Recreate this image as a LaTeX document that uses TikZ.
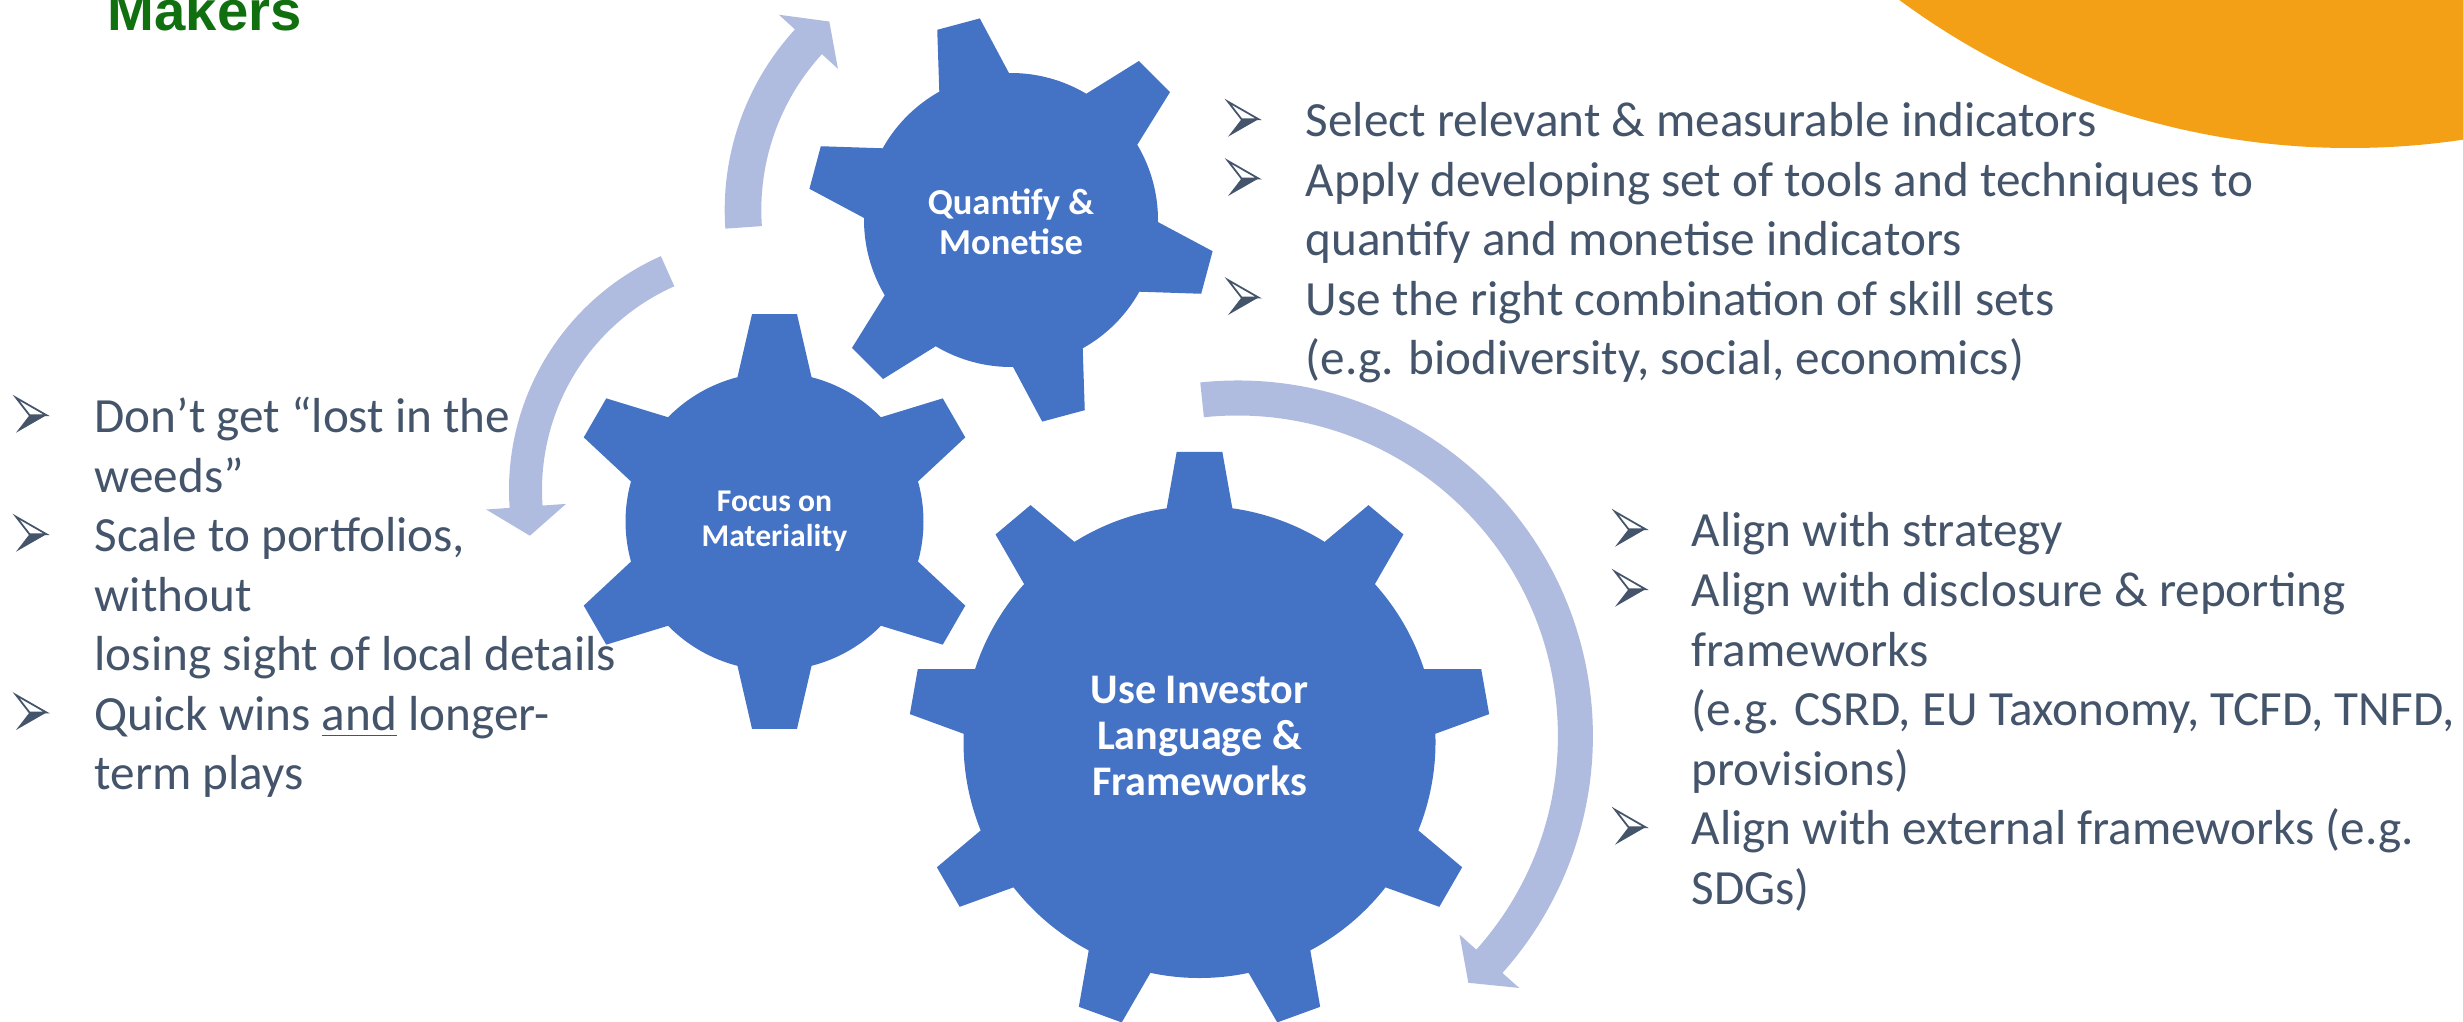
\documentclass[tikz,border=0pt]{standalone}
\usepackage{fontspec}
\setmainfont{Carlito}
\newfontfamily\headfont{Liberation Sans}
\usepackage{xcolor}
\usepackage{tikz}
\definecolor{gearBlue}{HTML}{4472C4}
\definecolor{arrowBlue}{HTML}{AFBBDF}
\definecolor{slate}{HTML}{44546A}
\definecolor{accentOrange}{HTML}{F3A017}
\definecolor{titleGreen}{HTML}{107010}
\tikzset{
  gearFill/.style={fill=gearBlue},
  flowArrow/.style={fill=arrowBlue},
  gearLabel/.style={text=white, align=center, inner sep=0pt},
  bulletText/.style={text=slate, font=\fontsize{14}{16.93}\selectfont, align=left, inner sep=0pt, anchor=base west},
  bulletMark/.pic={
    \draw[slate, fill=white, line width=0.5pt] (0,0.35) -- (0.305,0.175) -- (0.135,0.175) -- cycle;
    \fill[slate] (0.135,0.175) -- (0.305,0.175) -- (0,0) -- cycle;
  }
}

\begin{document}
\begin{tikzpicture}
  \useasboundingbox (0,0) rectangle (24.63,10.21);
  \clip (0,0) rectangle (24.63,10.21);

  \fill[accentOrange] (23.5,16.33) circle (7.6);

  % curved arrows: centre, mid radius, half width, tail, head base, tip
  \foreach \cx/\cy/\r/\w/\s/\e/\t in {9.92/8.11/2.49/0.183/184/137.5/130.8,
      7.65/5.31/2.395/0.165/114/184/191,
      12.374/2.85/3.38/0.175/96/-41.8/-46.9}
  {
    \fill[flowArrow, shift={(\cx,\cy)}]
      (\s:{\r+\w}) arc[start angle=\s, end angle=\e, radius={\r+\w}]
      -- (\e:{\r+0.4}) -- (\t:\r) -- (\e:{\r-0.4})
      -- (\e:{\r-\w}) arc[start angle=\e, end angle=\s, radius={\r-\w}] -- cycle;
  }

  % gears: centre, body radius, tip radius, teeth, phase, base and tip half angles
  \foreach \cx/\cy/\R/\Rt/\n/\ph/\ba/\ta in {10.11/8.01/1.47/2.04/6/105/14.2/6.2,
      7.745/4.995/1.49/2.085/6/90/14.4/6.2,
      11.995/2.79/2.36/2.91/9/90/8.0/4.5}
  {
    \fill[gearFill, shift={(\cx,\cy)}] ({\ph-\ba}:\R)
      \foreach \k in {1,...,\n} {
        -- ({\ph+(\k-1)*360/\n-\ta}:\Rt) -- ({\ph+(\k-1)*360/\n+\ta}:\Rt)
        -- ({\ph+(\k-1)*360/\n+\ba}:\R)
        arc[start angle={\ph+(\k-1)*360/\n+\ba}, end angle={\ph+\k*360/\n-\ba}, radius=\R]
      } -- cycle;
  }

  \node[gearLabel, font=\fontsize{10.4}{11.4}\selectfont\bfseries] (quantify) at (10.11,7.99) {Quantify \&\\Monetise};
  \node[gearLabel, font=\fontsize{9}{10}\selectfont\bfseries] (focus) at (7.745,4.995) {Focus on\\Materiality};
  \node[gearLabel, font=\fontsize{12}{13.1}\selectfont\bfseries] (investor) at (11.995,2.85) {Use Investor\\Language \&\\Frameworks};

  \node[anchor=base west, inner sep=0pt, text=titleGreen, font=\headfont\bfseries\fontsize{16}{19}\selectfont] (makers) at (1.07,9.903) {Makers};

  \foreach \x/\y in {0.16/5.883, 0.16/4.693, 0.16/2.91,
      12.28/8.843, 12.28/8.25, 12.28/7.06,
      16.15/4.743, 16.15/4.143, 16.15/1.763}
    \pic at (\x,\y) {bulletMark};

  % multi-line items sit on the baseline of their last line
  \node[bulletText] (weeds) at (0.94,5.288) {Don’t get “lost in the\\weeds”};
  \node[bulletText] (portfolios) at (0.94,3.503) {Scale to portfolios,\\without\\losing sight of local details};
  \node[bulletText] (wins) at (0.94,2.315) {Quick wins \underline{and} longer-\\term plays};

  \node[bulletText] (indicators) at (13.05,8.843) {Select relevant \& measurable indicators};
  \node[bulletText] (tools) at (13.05,7.655) {Apply developing set of tools and techniques to\\quantify and monetise indicators};
  \node[bulletText] (skills) at (13.05,6.465) {Use the right combination of skill sets\\(e.g. biodiversity, social, economics)};

  \node[bulletText] (strategy) at (16.91,4.743) {Align with strategy};
  \node[bulletText] (disclosure) at (16.91,2.358) {Align with disclosure \& reporting\\frameworks\\(e.g. CSRD, EU Taxonomy, TCFD, TNFD,\\provisions)};
  \node[bulletText] (external) at (16.91,1.168) {Align with external frameworks (e.g.\\SDGs)};
\end{tikzpicture}
\end{document}
